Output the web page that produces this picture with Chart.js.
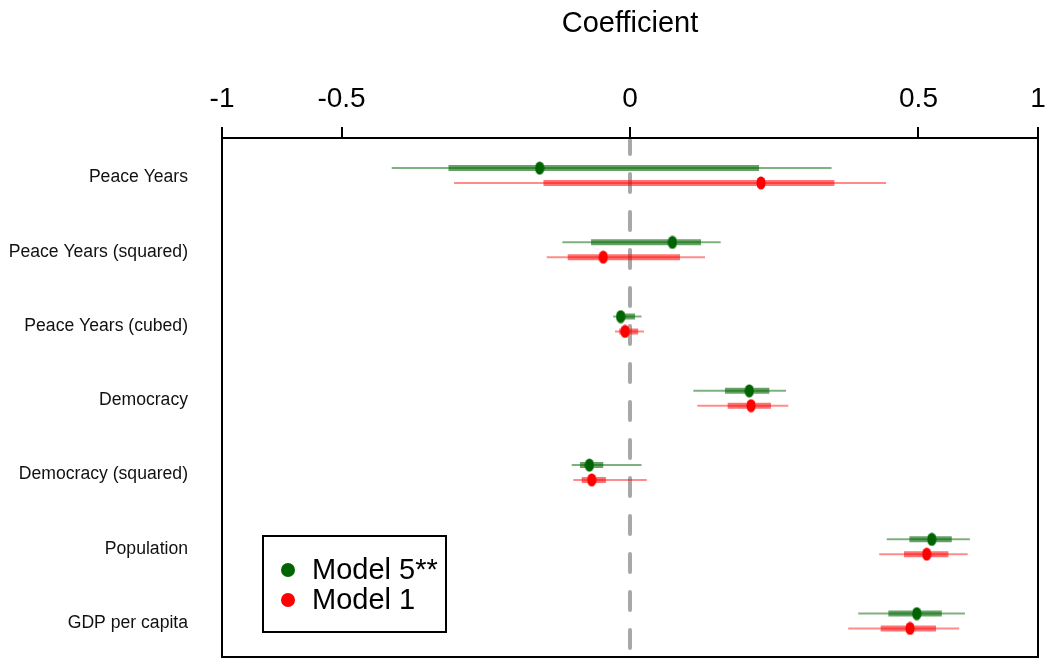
<!DOCTYPE html>
<html><head><meta charset="utf-8">
<script src="https://cdn.jsdelivr.net/npm/chart.js@4.4.0/dist/chart.umd.min.js"></script>
<style>html,body{margin:0;padding:0;background:#fff;}#wrap{width:1045px;height:659px;position:relative;}</style>
</head><body><div id="wrap"><canvas id="c" width="1045" height="659"></canvas></div>
<script>
// ---- data (coefficient scale) ----
const categories = ['Peace Years','Peace Years (squared)','Peace Years (cubed)','Democracy','Democracy (squared)','Population','GDP per capita'];
const xTickValues = [-1, -0.5, 0, 0.5, 1];
const seriesNames = ['Model 5**', 'Model 1'];

const m5Est  = [-0.049, 0.0108, -0.00052, 0.0855, -0.0099, 0.547, 0.494];
const m5Lo95 = [-0.341, -0.0275, -0.0017, 0.0241, -0.0204, 0.396, 0.313];
const m5Hi95 = [0.244, 0.0494, 0.0008, 0.1462, 0.0008, 0.694, 0.674];
const m5Lo90 = [-0.198, -0.0091, -0.0011, 0.0542, -0.0150, 0.469, 0.401];
const m5Hi90 = [0.100, 0.0303, 0.00015, 0.1166, -0.0043, 0.622, 0.584];

const m1Est  = [0.103, -0.0043, -0.00015, 0.088, -0.0088, 0.529, 0.471];
const m1Lo95 = [-0.186, -0.0417, -0.00135, 0.0272, -0.0193, 0.373, 0.286];
const m1Hi95 = [0.394, 0.0338, 0.00118, 0.1506, 0.0017, 0.685, 0.651];
const m1Lo90 = [-0.045, -0.0233, -0.0007, 0.0573, -0.0140, 0.451, 0.3775];
const m1Hi90 = [0.251, 0.0150, 0.0004, 0.1194, -0.0035, 0.609, 0.5625];

// signed square-root axis transform
const tr = v => Math.sign(v) * Math.sqrt(Math.abs(v));

const GREEN = '#006400', RED = '#ff0000';
const FONT = "'Liberation Sans', Arial, sans-serif";

function segs(lo, hi, off) {
  const d = [];
  lo.forEach((l, i) => { d.push({x: tr(l), y: i + off}, {x: tr(hi[i]), y: i + off}, {x: NaN, y: NaN}); });
  return d;
}
function pts(est, off) { return est.map((v, i) => ({x: tr(v), y: i + off})); }
function ellipse(color) {
  const c = document.createElement('canvas'); c.width = 10; c.height = 14;
  const g = c.getContext('2d'); g.fillStyle = color; g.beginPath();
  g.ellipse(5, 7, 4.6, 6.6, 0, 0, Math.PI * 2); g.fill(); return c;
}
const OFF5 = -0.1, OFF1 = 0.1;

const lineDs = (label, data, color, w, order) => ({
  type: 'scatter', label, data, showLine: true, spanGaps: false, borderColor: color,
  borderWidth: w, borderCapStyle: 'butt', pointRadius: 0, pointHoverRadius: 0, order
});

const zeroLine = {
  id: 'zeroLine',
  beforeDatasetsDraw(chart) {
    const {ctx, chartArea: a, scales} = chart;
    const x = scales.x.getPixelForValue(tr(0));
    ctx.save(); ctx.strokeStyle = '#a8a8a8'; ctx.lineWidth = 4; ctx.lineCap = 'round';
    ctx.setLineDash([18, 20]); ctx.lineDashOffset = 4;
    ctx.beginPath(); ctx.moveTo(x, a.top + 2); ctx.lineTo(x, a.bottom); ctx.stroke(); ctx.restore();
  }
};
const frame = {
  id: 'frame',
  afterDraw(chart) {
    const {ctx, chartArea: a} = chart;
    ctx.save(); ctx.strokeStyle = '#000'; ctx.lineWidth = 2;
    ctx.strokeRect(a.left, a.top, a.right - a.left, a.bottom - a.top);
    // legend box
    const L = a.left + 41, T = 536, W = 183, H = 96;
    ctx.strokeRect(L, T, W, H);
    const items = [[seriesNames[0], GREEN], [seriesNames[1], RED]];
    ctx.font = '29px ' + FONT; ctx.textBaseline = 'middle'; ctx.textAlign = 'left';
    items.forEach(([t, c], k) => {
      const y = T + 34 + k * 30;
      ctx.fillStyle = c; ctx.beginPath(); ctx.arc(L + 25, y, 7, 0, Math.PI * 2); ctx.fill();
      ctx.fillStyle = '#000'; ctx.fillText(t, L + 49, y + 1);
    });
    ctx.restore();
  }
};

new Chart(document.getElementById('c'), {
  type: 'scatter',
  data: {
    datasets: [
      {type: 'scatter', label: seriesNames[0], data: pts(m5Est, OFF5), pointStyle: ellipse(GREEN), pointRadius: 6, order: 0},
      {type: 'scatter', label: seriesNames[1], data: pts(m1Est, OFF1), pointStyle: ellipse(RED), pointRadius: 6, order: 0},
      lineDs('m5 inner', segs(m5Lo90, m5Hi90, OFF5), 'rgba(0,100,0,0.6)', 6, 1),
      lineDs('m1 inner', segs(m1Lo90, m1Hi90, OFF1), 'rgba(255,0,0,0.55)', 6, 1),
      lineDs('m5 outer', segs(m5Lo95, m5Hi95, OFF5), 'rgba(0,100,0,0.5)', 2, 2),
      lineDs('m1 outer', segs(m1Lo95, m1Hi95, OFF1), 'rgba(255,0,0,0.45)', 2, 2)
    ]
  },
  options: {
    responsive: false, animation: false, devicePixelRatio: 1,
    layout: {autoPadding: false, padding: {left: 0, right: 7, top: 0, bottom: 2}},
    plugins: {legend: {display: false}, tooltip: {enabled: false}},
    scales: {
      x: {
        type: 'linear', position: 'top', min: -1, max: 1,
        afterBuildTicks: s => { s.ticks = xTickValues.map(v => ({value: tr(v)})); },
        afterFit: s => { s.height = 138; s.paddingLeft = 0; s.paddingRight = 0; },
        ticks: {callback: (v, i) => String(xTickValues[i]), font: {family: FONT, size: 28}, color: '#000', padding: 11, maxRotation: 0, autoSkip: false},
        grid: {drawOnChartArea: false, drawTicks: true, tickLength: 11, color: '#000', lineWidth: 2},
        border: {display: false},
        title: {display: true, text: 'Coefficient', font: {family: FONT, size: 29}, color: '#000', padding: {top: 7, bottom: 0}}
      },
      y: {
        type: 'linear', min: -0.505, max: 6.485, reverse: true,
        afterBuildTicks: s => { s.ticks = categories.map((c, i) => ({value: i})); },
        afterFit: s => { s.width = 222; s.paddingTop = 0; s.paddingBottom = 0; },
        ticks: {callback: (v, i) => categories[i], font: {family: FONT, size: 17.6}, color: '#111', padding: 34, labelOffset: 2, autoSkip: false},
        grid: {display: false, drawTicks: false},
        border: {display: false}
      }
    }
  },
  plugins: [zeroLine, frame]
});
</script></body></html>
